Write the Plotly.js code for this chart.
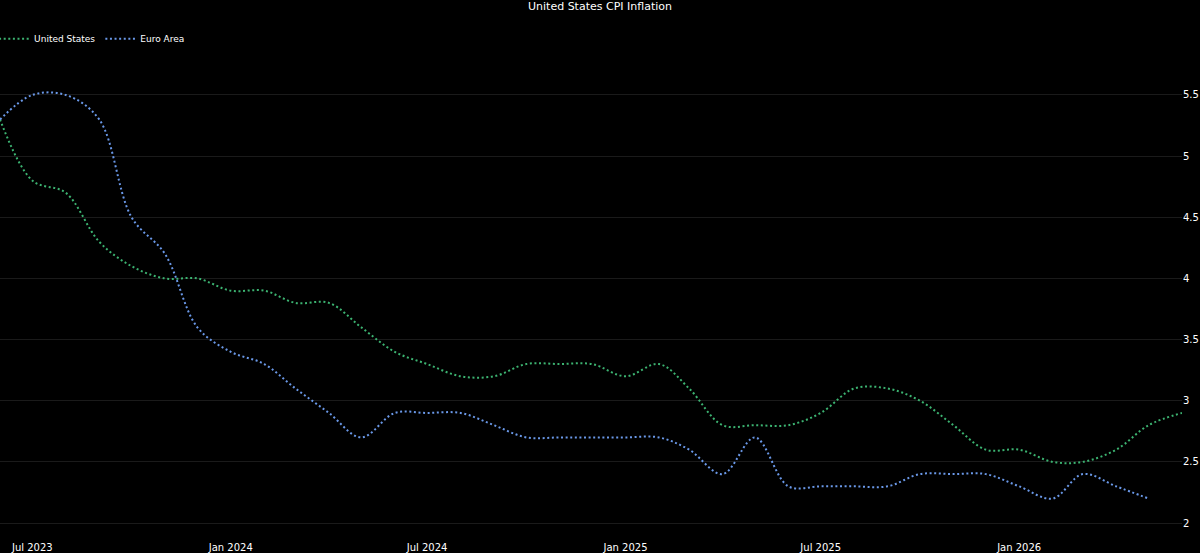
<!DOCTYPE html>
<html>
<head>
<meta charset="utf-8">
<script src="https://cdn.plot.ly/plotly-3.0.1.min.js"></script>
<style>
html,body{margin:0;padding:0;background:#000;}
#chart{width:1200px;height:553px;}
</style>
</head>
<body>
<div id="chart"></div>
<script>
// Monthly observation dates (as plotted on the axis)
const dates = [
  "2023-06-01","2023-07-01","2023-08-01","2023-09-01","2023-10-01","2023-11-01","2023-12-01",
  "2024-01-01","2024-02-01","2024-03-01","2024-04-01","2024-05-01","2024-06-01",
  "2024-07-01","2024-08-01","2024-09-01","2024-10-01","2024-11-01","2024-12-01",
  "2025-01-01","2025-02-01","2025-03-01","2025-04-01","2025-05-01","2025-06-01",
  "2025-07-01","2025-08-01","2025-09-01","2025-10-01","2025-11-01","2025-12-01",
  "2026-01-01","2026-02-01","2026-03-01","2026-04-01","2026-05-01","2026-06-01"
];
// United States CPI inflation (%)
const usValues = [
  5.3, 4.8, 4.7, 4.3, 4.1, 4.0, 4.0,
  3.9, 3.9, 3.8, 3.8, 3.6, 3.4,
  3.3, 3.2, 3.2, 3.3, 3.3, 3.3,
  3.2, 3.3, 3.1, 2.8, 2.8, 2.8,
  2.9, 3.1, 3.1, 3.0, 2.8, 2.6,
  2.6, 2.5, 2.5, 2.6, 2.8, 2.9
];
// Euro Area CPI inflation (%)
const euroValues = [
  5.3, 5.5, 5.5, 5.3, 4.5, 4.2, 3.6,
  3.4, 3.3, 3.1, 2.9, 2.7, 2.9,
  2.9, 2.9, 2.8, 2.7, 2.7, 2.7,
  2.7, 2.7, 2.6, 2.4, 2.7, 2.3,
  2.3, 2.3, 2.3, 2.4, 2.4, 2.4,
  2.3, 2.2, 2.4, 2.3, 2.2
];
const seriesNames = ["United States", "Euro Area"];
const chartTitle = "United States CPI Inflation";

const font = "DejaVu Sans, Verdana, sans-serif";

const traces = [
  {
    x: dates.slice(0, usValues.length), y: usValues, name: seriesNames[0],
    type: "scatter", mode: "lines",
    line: {color: "#3cb371", width: 2, dash: "2px,2.6px", shape: "spline", smoothing: 1}
  },
  {
    x: dates.slice(0, euroValues.length), y: euroValues, name: seriesNames[1],
    type: "scatter", mode: "lines",
    line: {color: "#6a98e8", width: 2, dash: "2px,2.6px", shape: "spline", smoothing: 1}
  }
];

const layout = {
  width: 1200, height: 553,
  paper_bgcolor: "#000", plot_bgcolor: "#000",
  margin: {l: 0, r: 18, t: 60, b: 23, autoexpand: false},
  font: {family: font, color: "#ffffff", size: 10},
  title: {text: chartTitle, x: 0.5, xanchor: "center", y: 0.995, yanchor: "top",
          font: {family: font, size: 11, color: "#ffffff"}},
  showlegend: true,
  legend: {orientation: "h", x: -0.005, xanchor: "left", y: 1.045, yanchor: "middle",
           font: {family: font, size: 9, color: "#ffffff"}, bgcolor: "rgba(0,0,0,0)",
           itemwidth: 30, tracegroupgap: 0},
  xaxis: {
    type: "date", range: ["2023-06-01", "2026-06-01"],
    tick0: "2023-07-01", dtick: "M6", tickformat: "%b %Y",
    showgrid: false, zeroline: false, showline: false, ticks: "",
    ticklabelstandoff: 10, automargin: false,
    tickfont: {family: font, size: 10, color: "#ffffff"}
  },
  yaxis: {
    side: "right", range: [1.943, 5.786], dtick: 0.5, tick0: 2,
    showgrid: true, gridcolor: "#1a1a1a", gridwidth: 1,
    zeroline: false, showline: false, ticks: "", automargin: false,
    tickfont: {family: font, size: 10, color: "#ffffff"}
  }
};

Plotly.newPlot("chart", traces, layout, {displayModeBar: false, staticPlot: true});
</script>
</body>
</html>
